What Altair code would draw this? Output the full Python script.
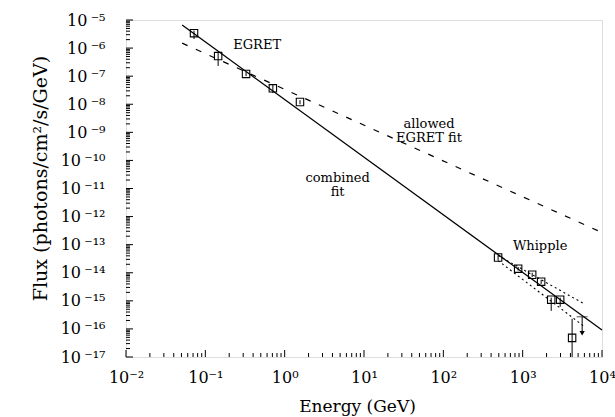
import altair as alt
import pandas as pd

# ---- data ----
egret_E = [0.072, 0.145, 0.326, 0.71, 1.56]
egret_F = [3.4e-6, 5.2e-7, 1.2e-7, 3.7e-8, 1.2e-8]
egret_lo = [2.1e-6, 2.3e-7, 1.0e-7, 2.5e-8, 1.0e-8]
egret_hi = [4.2e-6, 7.2e-7, 1.4e-7, 5.1e-8, 1.4e-8]

whip_E = [490, 877, 1318, 1710, 2290, 2970, 4200]
whip_F = [3.5e-14, 1.4e-14, 8.5e-15, 4.8e-15, 1.1e-15, 1.1e-15, 4.8e-17]
whip_lo = [2.8e-14, 1.2e-14, 7.0e-15, 4.0e-15, 4.4e-16, 6.2e-16, 1.0e-17]
whip_hi = [4.2e-14, 1.6e-14, 1.0e-14, 5.6e-15, 1.3e-15, 1.3e-15, 2.3e-16]

ul_E = [5620]
ul_F = [2.7e-16]
ul_tip = [7.0e-17]

combined_E = [0.051, 1e4]
combined_F = [6.6e-6, 9.1e-17]
allowed_E = [0.051, 1e4]
allowed_F = [1.5e-6, 2.7e-13]
dot_up_E = [490, 5960]
dot_up_F = [4.1e-14, 7.8e-16]
dot_lo_E = [490, 5800]
dot_lo_F = [2.7e-14, 1.3e-16]

ann_text = ["EGRET", "allowed\nEGRET fit", "combined\nfit", "Whipple"]
ann_E = [0.45, 66, 4.65, 1660]
ann_F = [1.3e-6, 1.95e-9, 2.4e-11, 9.1e-14]

x_decades = [-2, -1, 0, 1, 2, 3, 4]
y_decades = list(range(-17, -4))
minor_mult = [2, 3, 4, 5, 6, 7, 8, 9]
x_labels = ["10⁻²", "10⁻¹", "10⁰", "10¹", "10²", "10³", "10⁴"]
y_labels = ["10\u2009⁻¹⁷", "10\u2009⁻¹⁶", "10\u2009⁻¹⁵", "10\u2009⁻¹⁴", "10\u2009⁻¹³", "10\u2009⁻¹²",
            "10\u2009⁻¹¹", "10\u2009⁻¹⁰", "10\u2009⁻⁹", "10\u2009⁻⁸", "10\u2009⁻⁷", "10\u2009⁻⁶", "10\u2009⁻⁵"]

W, H = 476, 337
FONT = "DejaVu Serif"

xscale = alt.Scale(type="log", domain=[1e-2, 1e4], nice=False)
yscale = alt.Scale(type="log", domain=[1e-17, 1e-5], nice=False)

def js_arr(a):
    return "[" + ",".join("'" + s + "'" for s in a) + "]"

xaxis = alt.Axis(
    values=[10.0 ** d for d in x_decades],
    labelExpr=js_arr(x_labels) + "[round(log(datum.value)/LN10) + 2]",
    ticks=False, tickSize=0, domain=False, grid=False,
    labelFont=FONT, labelFontSize=16, labelColor="black", labelPadding=12,
    labelFlush=False, labelOverlap=False,
    title="Energy (GeV)", titleFont=FONT, titleFontSize=17, titleFontWeight="normal",
    titleColor="black", titleX=231, titleY=49, titleBaseline="middle", titleAlign="center",
)
yaxis = alt.Axis(
    values=[10.0 ** d for d in y_decades],
    labelExpr=js_arr(y_labels) + "[round(log(datum.value)/LN10) + 17]",
    ticks=False, tickSize=0, domain=False, grid=False,
    labelFont=FONT, labelFontSize=16, labelColor="black", labelPadding=21,
    labelFlush=False, labelOverlap=False,
    title="Flux (photons/cm²/s/GeV)", titleFont=FONT, titleFontSize=19, titleFontWeight="normal",
    titleColor="black", titleX=-86, titleY=158, titleBaseline="middle", titleAlign="center",
    titleAngle=270,
)

def X(f):
    return alt.X(f, type="quantitative", scale=xscale, axis=xaxis)

def Y(f):
    return alt.Y(f, type="quantitative", scale=yscale, axis=yaxis)

pts = pd.DataFrame({
    "E": egret_E + whip_E,
    "F": egret_F + whip_F,
    "lo": egret_lo + whip_lo,
    "hi": egret_hi + whip_hi,
})

def line_df(E, F):
    return pd.DataFrame({"E": E, "F": F})

combined = alt.Chart(line_df(combined_E, combined_F)).mark_line(
    color="black", strokeWidth=1.3).encode(x=X("E"), y=Y("F"))
allowed = alt.Chart(line_df(allowed_E, allowed_F)).mark_line(
    color="black", strokeWidth=1.2, strokeDash=[6, 9]).encode(x=X("E"), y=Y("F"))
dot_up = alt.Chart(line_df(dot_up_E, dot_up_F)).mark_line(
    color="black", strokeWidth=1.1, strokeDash=[2, 3]).encode(x=X("E"), y=Y("F"))
dot_lo = alt.Chart(line_df(dot_lo_E, dot_lo_F)).mark_line(
    color="black", strokeWidth=1.1, strokeDash=[2, 3]).encode(x=X("E"), y=Y("F"))

errbars = alt.Chart(pts).mark_rule(color="black", strokeWidth=1).encode(
    x=X("E"), y=Y("lo"), y2="hi")
squares = alt.Chart(pts).mark_point(
    shape="square", size=55, filled=False, color="black", strokeWidth=1.1, opacity=1
).encode(x=X("E"), y=Y("F"))

ul = pd.DataFrame({"E": ul_E, "F": ul_F, "tip": ul_tip})
ul_line = alt.Chart(ul).mark_rule(color="black", strokeWidth=1).encode(
    x=X("E"), y=Y("F"), y2="tip")
ul_cap = alt.Chart(ul).mark_tick(orient="horizontal", color="black", size=11, thickness=1).encode(
    x=X("E"), y=Y("F"))
ul_arrow = alt.Chart(ul).mark_point(shape="triangle-down", filled=True, color="black",
                                    size=28, opacity=1).encode(x=X("E"), y=Y("tip"))

ann = alt.Chart(pd.DataFrame({"E": ann_E, "F": ann_F, "t": ann_text})).mark_text(
    font=FONT, fontSize=13, color="black", align="center", baseline="middle",
    lineBreak="\n", lineHeight=14
).encode(x=X("E"), y=Y("F"), text="t:N")

x_major = [10.0 ** d for d in x_decades]
x_minor = [m * 10.0 ** d for d in x_decades[:-1] for m in minor_mult]
y_major = [10.0 ** d for d in y_decades]
y_minor = [m * 10.0 ** d for d in y_decades[:-1] for m in minor_mult]

xt_major = alt.Chart(pd.DataFrame({"E": x_major})).mark_rule(color="black", strokeWidth=1).encode(
    x=X("E"), y=alt.value(H), y2=alt.value(H - 7))
xt_minor = alt.Chart(pd.DataFrame({"E": x_minor})).mark_rule(color="black", strokeWidth=1).encode(
    x=X("E"), y=alt.value(H), y2=alt.value(H - 4))
yt_major = alt.Chart(pd.DataFrame({"F": y_major})).mark_rule(color="black", strokeWidth=1).encode(
    y=Y("F"), x=alt.value(0), x2=alt.value(7))
yt_minor = alt.Chart(pd.DataFrame({"F": y_minor})).mark_rule(color="black", strokeWidth=1).encode(
    y=Y("F"), x=alt.value(0), x2=alt.value(4))

chart = alt.layer(
    xt_major, xt_minor, yt_major, yt_minor,
    allowed, combined, dot_up, dot_lo,
    errbars, squares, ul_line, ul_cap, ul_arrow, ann,
).properties(
    width=W, height=H,
    padding={"left": 126, "top": 20, "right": 13, "bottom": 60},
    autosize=alt.AutoSizeParams(type="none"),
    background="white",
).configure_view(
    stroke="black", strokeWidth=2
).configure(font=FONT)

chart.save("out.html", embed_options={"renderer": "svg", "actions": False})
